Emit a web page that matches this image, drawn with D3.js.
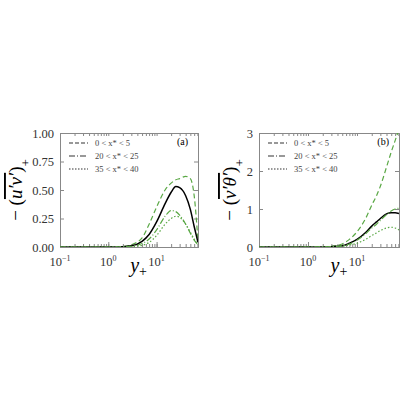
<!DOCTYPE html>
<html><head><meta charset="utf-8">
<script src="https://cdn.jsdelivr.net/npm/d3@7"></script>
<style>body{margin:0;background:#fff}text{font-family:"Liberation Serif","DejaVu Serif",serif}</style>
</head><body>
<div id="chart"></div>
<script>
var yplus = [0.1, 1, 2, 3, 5, 7, 10, 15, 20, 25, 30, 40, 50, 60, 72];
// panel (a)
var uvDash   = [0, 0, 0.005, 0.02, 0.08, 0.2, 0.35, 0.5, 0.56, 0.59, 0.6, 0.62, 0.6, 0.45, 0.05];
var uvSolid  = [0, 0, 0.003, 0.01, 0.05, 0.11, 0.22, 0.38, 0.48, 0.53, 0.52, 0.45, 0.33, 0.18, 0.04];
var uvDashDot= [0, 0, 0.001, 0.005, 0.03, 0.07, 0.15, 0.27, 0.32, 0.31, 0.28, 0.2, 0.12, 0.06, 0.02];
var uvDot    = [0, 0, 0.001, 0.003, 0.015, 0.04, 0.1, 0.2, 0.25, 0.27, 0.26, 0.2, 0.13, 0.07, 0.02];
// panel (b)
var vtDash   = [0, 0, 0.005, 0.02, 0.08, 0.2, 0.4, 0.75, 1.1, 1.35, 1.6, 2.1, 2.5, 2.8, 3.1];
var vtSolid  = [0, 0, 0.002, 0.008, 0.03, 0.1, 0.2, 0.38, 0.55, 0.66, 0.75, 0.87, 0.9, 0.9, 0.88];
var vtDashDot= [0, 0, 0.002, 0.008, 0.03, 0.08, 0.18, 0.35, 0.5, 0.6, 0.7, 0.85, 0.95, 1.0, 1.02];
var vtDot    = [0, 0, 0.001, 0.005, 0.02, 0.05, 0.1, 0.2, 0.3, 0.37, 0.43, 0.5, 0.52, 0.5, 0.45];
var legendLabels = ["0 < x* < 5", "20 < x* < 25", "35 < x* < 40"];
var xTicks = [0.1, 1, 10];

var green = "#5aa845";
var serif = "Liberation Serif, DejaVu Serif, serif";
var svg = d3.select("#chart").append("svg").attr("width", 400).attr("height", 400);

function panel(left, right, yMax, yTickVals, fmt, series, tag, ylab, ylx) {
  var x = d3.scaleLog().domain([0.1, 72]).range([left, right]);
  var y = d3.scaleLinear().domain([0, yMax]).range([247, 133]);
  var g = svg.append("g");
  g.append("defs").append("clipPath").attr("id", "c" + tag)
    .append("rect").attr("x", left).attr("y", 133).attr("width", right - left).attr("height", 114);
  var minor = [];
  for (var d = 0.1; d < 100; d *= 10) for (var k = 1; k < 10; k++) if (d * k <= 72) minor.push(d * k);
  g.append("g").attr("transform", "translate(0,247)")
    .call(d3.axisBottom(x).tickValues(minor).tickSize(-3).tickFormat(""));
  g.append("g").attr("transform", "translate(0,247)")
    .call(d3.axisBottom(x).tickValues(xTicks).tickSize(-5).tickFormat(""));
  g.append("g").attr("transform", "translate(0,133)")
    .call(d3.axisTop(x).tickValues(minor).tickSize(-3).tickFormat(""));
  g.append("g").attr("transform", "translate(" + left + ",0)")
    .call(d3.axisLeft(y).tickValues(yTickVals).tickSize(-4).tickPadding(6).tickFormat(fmt));
  g.append("g").attr("transform", "translate(" + right + ",0)")
    .call(d3.axisRight(y).tickValues(yTickVals).tickSize(-4).tickFormat(""));
  g.selectAll("g").attr("font-family", serif);
  g.selectAll(".domain").attr("stroke", "#888");
  g.selectAll(".tick line").attr("stroke", "#888");
  g.selectAll(".tick text").attr("font-size", 12.5).attr("fill", "#333");
  xTicks.forEach(function(t, i) {
    var tx = g.append("text").attr("x", x(t)).attr("y", 266).attr("text-anchor", "middle")
      .attr("font-size", 12.5).attr("fill", "#333");
    tx.append("tspan").text("10");
    tx.append("tspan").attr("dy", -5).attr("font-size", 8).text(i == 0 ? "−1" : String(i - 1));
  });
  var line = d3.line().x(function(d, i) { return x(yplus[i]); }).y(function(d) { return y(d); })
    .curve(d3.curveMonotoneX);
  var styles = [
    {c: green, dash: "5,3"}, {c: "#000", dash: null, w: 1.5},
    {c: green, dash: "6,2,1,2"}, {c: green, dash: "1.5,2"}];
  series.forEach(function(s, i) {
    g.append("path").datum(s).attr("clip-path", "url(#c" + tag + ")")
      .attr("fill", "none").attr("stroke", styles[i].c).attr("stroke-width", styles[i].w || 1.2)
      .attr("stroke-dasharray", styles[i].dash).attr("d", line);
  });
  var legDash = ["4,2", "6,2,1,2", "1.5,1.5"];
  legendLabels.forEach(function(l, i) {
    var ly = 143 + i * 13;
    g.append("line").attr("x1", left + 9).attr("x2", left + 28).attr("y1", ly).attr("y2", ly)
      .attr("stroke", "#333").attr("stroke-width", 1.2).attr("stroke-dasharray", legDash[i]);
    g.append("text").attr("x", left + 35).attr("y", ly + 3).attr("font-size", 8.5).attr("fill", "#444")
      .text(l);
  });
  g.append("text").attr("x", right - 10).attr("y", 145).attr("text-anchor", "end")
    .attr("font-size", 10).text("(" + tag + ")");
  g.append("text").attr("x", x(10) - 18).attr("y", 272).attr("text-anchor", "middle")
    .attr("font-size", 20).attr("font-style", "italic").text("y")
    .append("tspan").attr("dy", 4).attr("font-size", 14).attr("font-style", "normal").text("+");
  var yl = g.append("text").attr("transform", "translate(" + ylx + ",190) rotate(-90)")
    .attr("text-anchor", "middle").attr("font-size", 19);
  yl.append("tspan").text("− (");
  yl.append("tspan").attr("font-style", "italic").style("text-decoration", "overline").text(ylab);
  yl.append("tspan").text(")");
  yl.append("tspan").attr("dy", 8).attr("font-size", 13).text("+");
}

panel(60, 198, 1, [0, 0.25, 0.5, 0.75, 1], d3.format(".2f"),
  [uvDash, uvSolid, uvDashDot, uvDot], "a", "u′v′", 22);
panel(259, 399, 3, [0, 1, 2, 3], d3.format("d"),
  [vtDash, vtSolid, vtDashDot, vtDot], "b", "v′θ′", 236);
</script>
</body></html>
